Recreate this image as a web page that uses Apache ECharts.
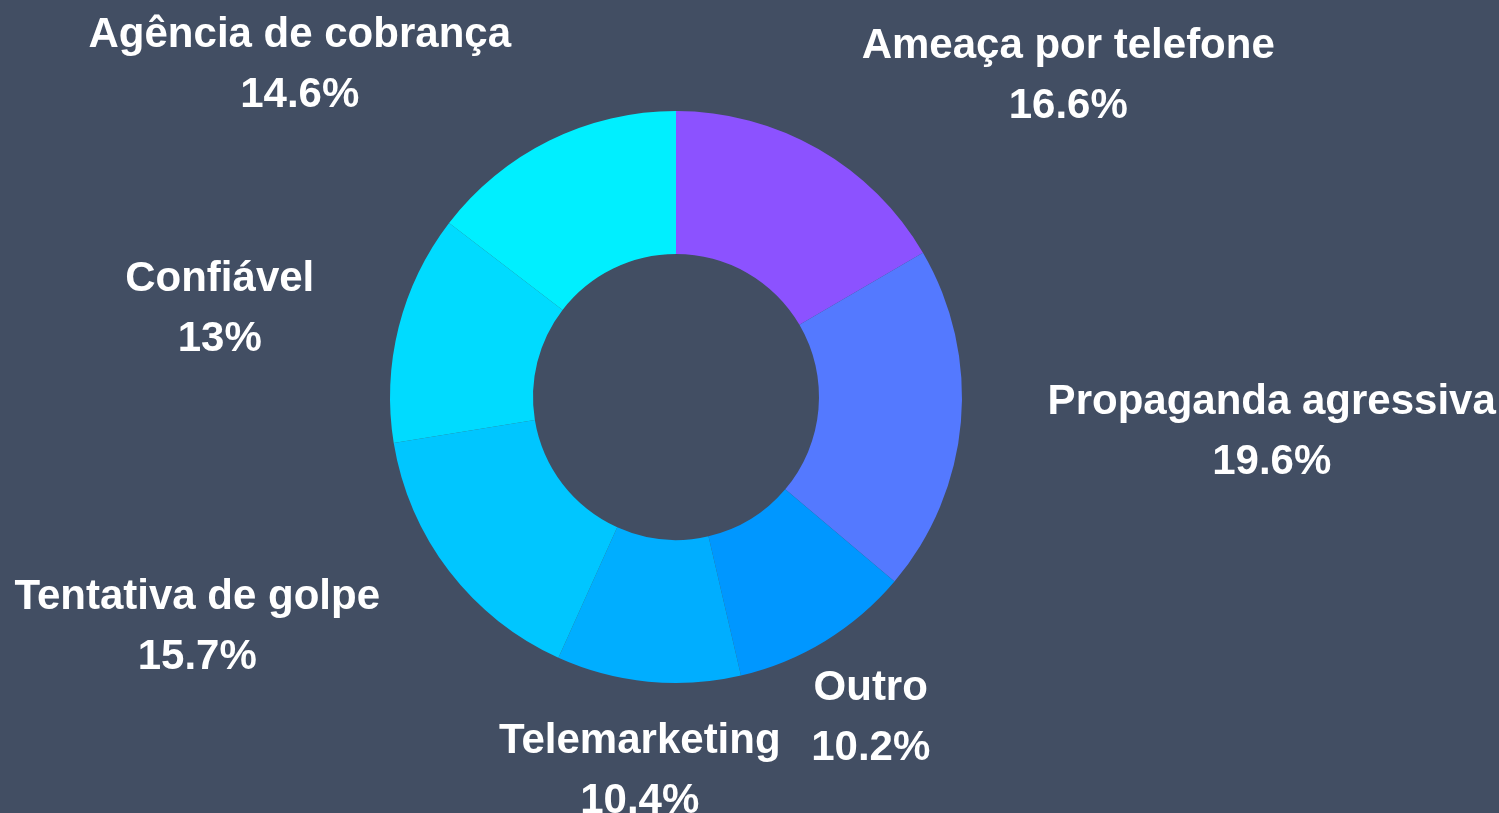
<!DOCTYPE html>
<html>
<head>
<meta charset="utf-8">
<title>Reclamações</title>
<script src="https://cdn.jsdelivr.net/npm/echarts@6/dist/echarts.min.js"></script>
<style>
    html, body { margin: 0; padding: 0; background: #424e63; }
    #main { width: 1499px; height: 813px; }
</style>
</head>
<body>
<div id="main"></div>
<script>
// categories, clockwise from the top
var categories = ["Ameaça por telefone", "Propaganda agressiva", "Outro", "Telemarketing",
    "Tentativa de golpe", "Confiável", "Agência de cobrança"];
// share of each category, in percent
var values = [16.6, 19.6, 10.2, 10.4, 15.7, 13, 14.6];
// slice colours
var colors = ["#8c52ff", "#5479ff", "#0097ff", "#00aeff", "#00c6ff", "#00dbff", "#00efff"];

var chart = echarts.init(document.getElementById('main'));

var pieData = [];
for (var i = 0; i < categories.length; i++) {
    pieData.push({name: categories[i], value: values[i], itemStyle: {color: colors[i]}});
}

var option = {
    backgroundColor: '#424e63',
    animation: false,
    series: [
        {
            type: 'pie',
            center: [676, 397],
            radius: [143, 286],
            startAngle: 90,
            avoidLabelOverlap: false,
            data: pieData,
            label: {
                show: true,
                position: 'outside',
                formatter: '{b}\n{c}%',
                color: '#ffffff',
                fontFamily: 'Liberation Sans, Arial, sans-serif',
                fontWeight: 'bold',
                fontSize: 42,
                lineHeight: 60,
                distanceToLabelLine: 0
            },
            labelLine: {
                show: false,
                length: 87,
                length2: 0
            },
            // lines of each label are centred; labels under the donut are centred on their anchor
            labelLayout: function (params) {
                var pts = params.labelLinePoints;
                var rect = params.labelRect;
                var midY = rect.y + rect.height / 2 + 3;
                if (!pts || pts.length < 2) {
                    return {x: rect.x + rect.width / 2, y: midY, align: 'center', verticalAlign: 'middle'};
                }
                var dx = pts[1][0] - pts[0][0];
                var dy = pts[1][1] - pts[0][1];
                var len = Math.sqrt(dx * dx + dy * dy) || 1;
                if (dy / len > 0.75) {
                    return {x: pts[pts.length - 1][0], y: midY, align: 'center', verticalAlign: 'middle'};
                }
                return {x: rect.x + rect.width / 2, y: midY, align: 'center', verticalAlign: 'middle'};
            }
        }
    ]
};

chart.setOption(option);
</script>
</body>
</html>
